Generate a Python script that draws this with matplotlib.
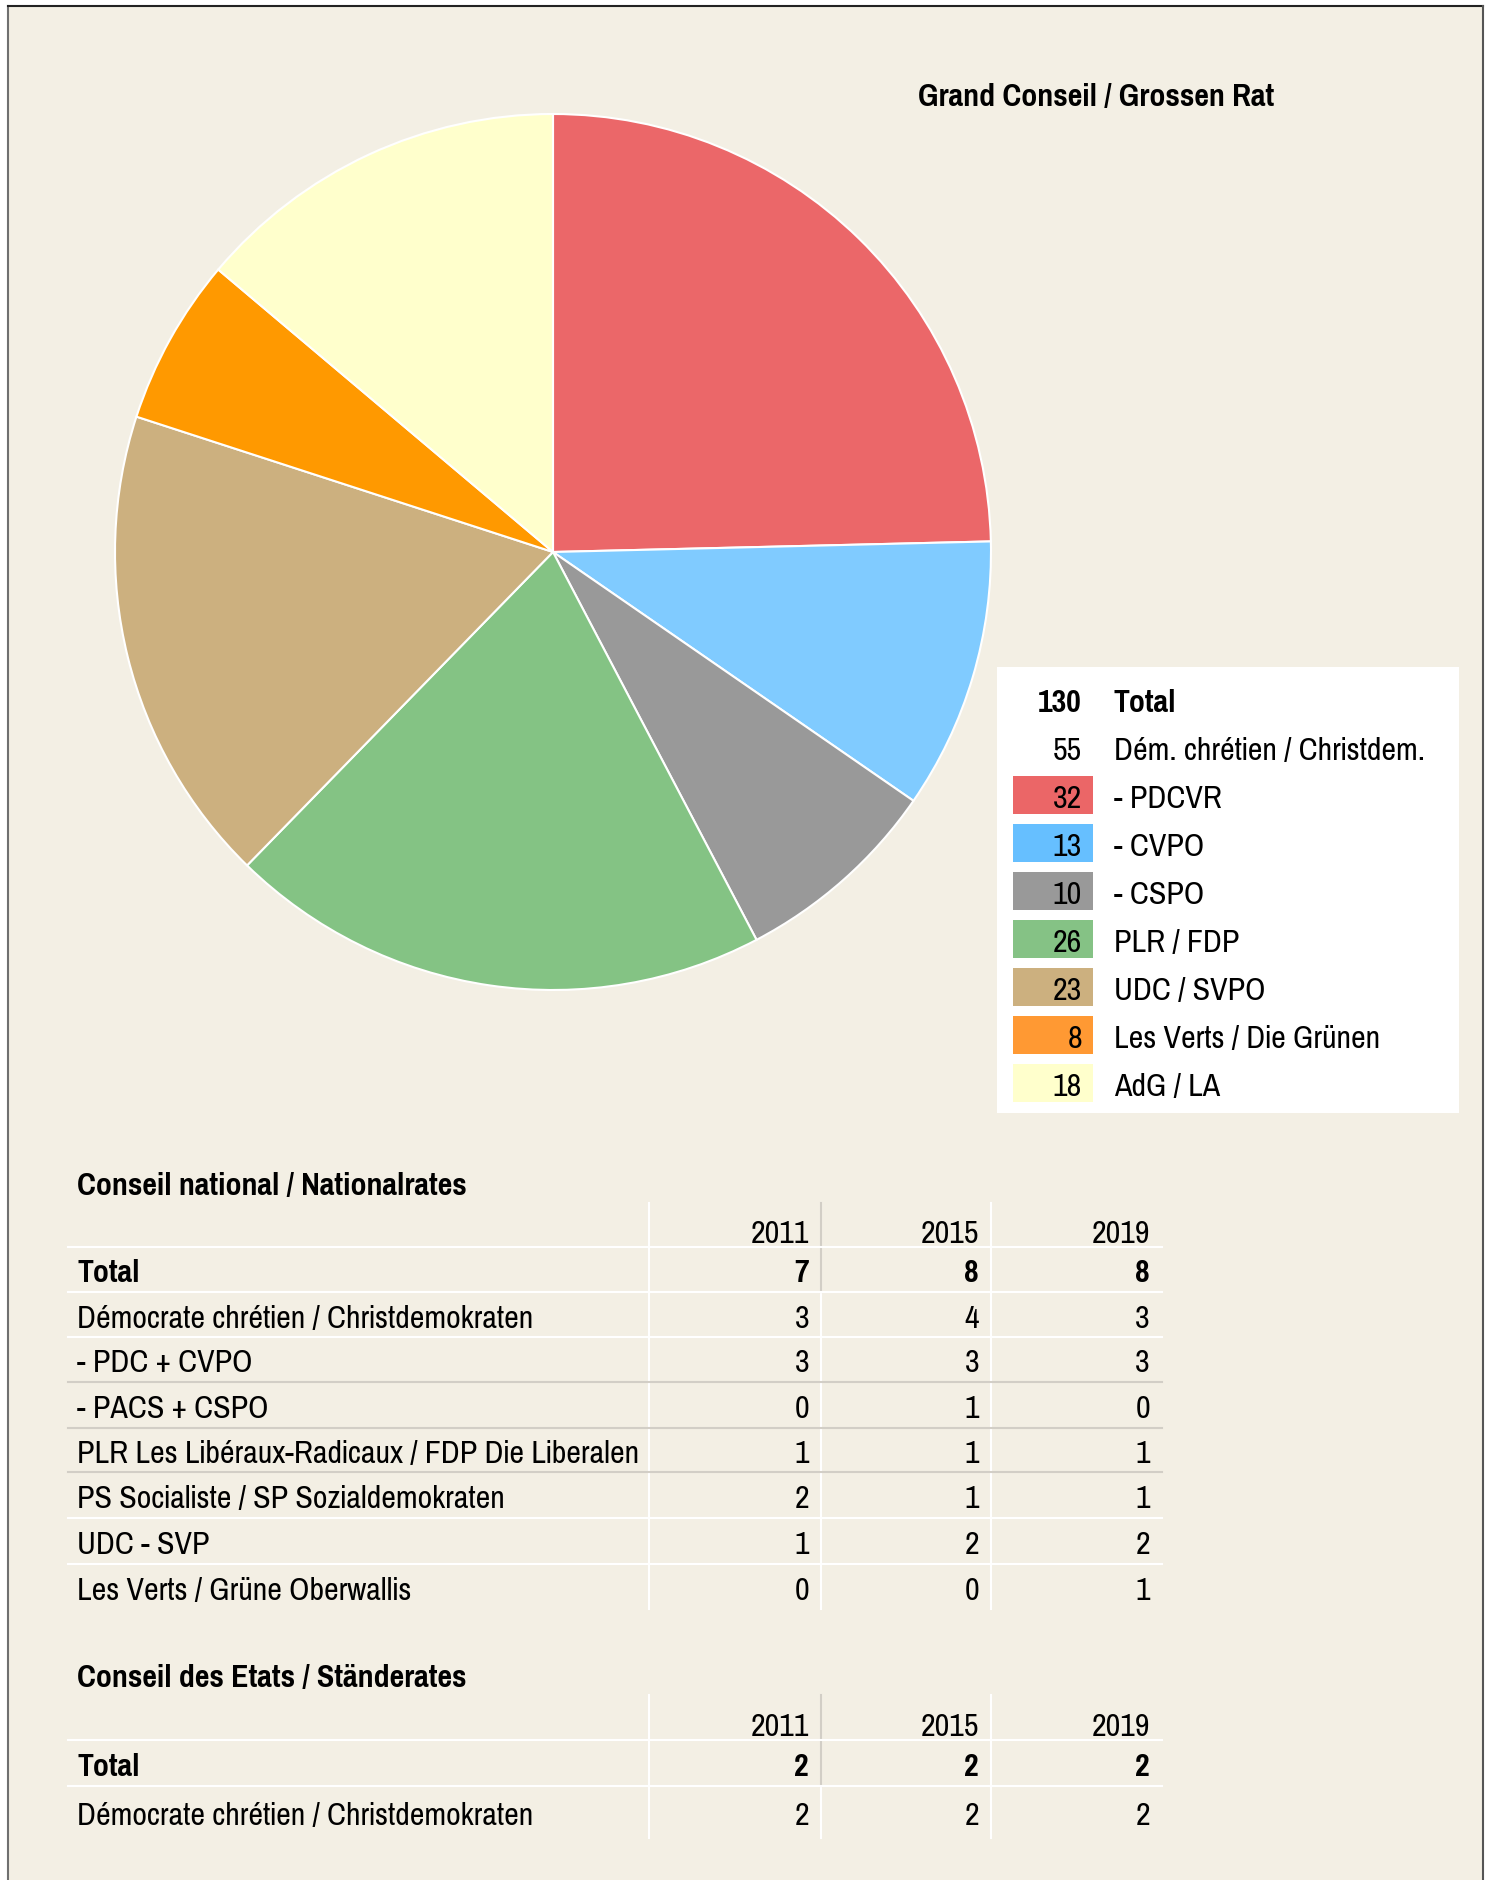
import matplotlib
matplotlib.use('Agg')
import matplotlib.pyplot as plt
from matplotlib.patches import Rectangle

plt.rcParams['font.family'] = ['Pragati Narrow', 'Liberation Sans Narrow', 'Roboto Condensed', 'DejaVu Sans']

W, H = 1490, 1881
BG = '#F3EFE4'

# Grand Conseil seats
parties = ['- PDCVR', '- CVPO', '- CSPO', 'PLR / FDP', 'UDC / SVPO', 'Les Verts / Die Grünen', 'AdG / LA']
seats = [32, 13, 10, 26, 23, 8, 18]
pie_colors = ['#EB6769', '#80CBFF', '#999999', '#84C384', '#CCB07F', '#FF9900', '#FFFFCC']
swatch_colors = ['#EB6667', '#66BFFF', '#999999', '#85C285', '#CCB07F', '#FF9933', '#FFFFCC']
total_label = 'Total'
dc_label = 'Dém. chrétien / Christdem.'
dc_seats = 55

# Conseil national
years = ['2011', '2015', '2019']
cn_rows = ['Total', 'Démocrate chrétien / Christdemokraten', '- PDC + CVPO', '- PACS + CSPO',
           'PLR Les Libéraux-Radicaux / FDP Die Liberalen', 'PS Socialiste / SP Sozialdemokraten',
           'UDC - SVP', 'Les Verts / Grüne Oberwallis']
cn_2011 = [7, 3, 3, 0, 1, 2, 1, 0]
cn_2015 = [8, 4, 3, 1, 1, 1, 2, 0]
cn_2019 = [8, 3, 3, 0, 1, 1, 2, 1]

# Conseil des Etats
ce_rows = ['Total', 'Démocrate chrétien / Christdemokraten']
ce_2011 = [2, 2]
ce_2015 = [2, 2]
ce_2019 = [2, 2]

FS = 25
DY = 3  # small downward nudge for text baselines

fig = plt.figure(figsize=(W / 100, H / 100), dpi=100)
fig.patch.set_facecolor('white')
ax = fig.add_axes([0, 0, 1, 1])
ax.set_xlim(0, W)
ax.set_ylim(H, 0)
ax.axis('off')

# panel + frame (no bottom border)
ax.add_patch(Rectangle((8, 7), 1475, H, facecolor=BG, edgecolor='none', zorder=0))
ax.plot([8, 8], [7, H], color='#707070', lw=1.5, zorder=1)
ax.plot([8, 1483], [7, 7], color='#222222', lw=1.5, zorder=1)
ax.plot([1483, 1483], [7, H], color='#555555', lw=1.5, zorder=1)

# pie
cx, cy, r = 553, 553, 438
pax = fig.add_axes([(cx - r) / W, 1 - (cy + r) / H, 2 * r / W, 2 * r / H])
pax.pie(seats, colors=pie_colors, startangle=90, counterclock=False,
        wedgeprops=dict(edgecolor='white', linewidth=1.5))
pax.set_xlim(-1, 1)
pax.set_ylim(-1, 1)
pax.axis('off')

ax.text(1096, 94 + DY, 'Grand Conseil / Grossen Rat', fontsize=FS, fontweight='bold',
        ha='center', va='center')

# legend box
ax.add_patch(Rectangle((997, 668), 462, 446, facecolor='white', edgecolor='none', zorder=2))
row0, step = 700, 48
ax.text(1082, row0 + DY, str(sum(seats)), fontsize=FS, fontweight='bold', ha='right', va='center', zorder=3)
ax.text(1114, row0 + DY, total_label, fontsize=FS, fontweight='bold', ha='left', va='center', zorder=3)
ax.text(1082, row0 + step + DY, str(dc_seats), fontsize=FS, ha='right', va='center', zorder=3)
ax.text(1114, row0 + step + DY, dc_label, fontsize=FS, ha='left', va='center', zorder=3)
for i, (lab, val, col) in enumerate(zip(parties, seats, swatch_colors)):
    y = row0 + step * (i + 2)
    ax.add_patch(Rectangle((1013, y - 19), 80, 38, facecolor=col, edgecolor='none', zorder=3))
    ax.text(1082, y + DY, str(val), fontsize=FS, ha='right', va='center', zorder=4)
    ax.text(1114, y + DY, lab, fontsize=FS, ha='left', va='center', zorder=4)

# tables
x_left, x_right = 68, 1162
col_seps = [649, 821, 991]
col_right = [809, 979, 1150]
GRID = '#D2CEC6'


def draw_table(title, title_y, top, bounds, rows, cols, hline_colors):
    ax.text(77, title_y + DY, title, fontsize=FS, fontweight='bold', ha='left', va='center')
    for xs in col_seps:
        ax.plot([xs, xs], [top, bounds[-1]], color='white', lw=1.5, zorder=1)
    ax.plot([col_seps[1], col_seps[1]], [top, bounds[1]], color=GRID, lw=1.5, zorder=1)
    # header
    yh = (top + bounds[0]) / 2 + 5 + DY
    for yr, xr in zip(years, col_right):
        ax.text(xr, yh, yr, fontsize=FS, ha='right', va='center')
    for k, lab in enumerate(rows):
        y = (bounds[k] + bounds[k + 1]) / 2 + DY
        w = 'bold' if k == 0 else 'normal'
        ax.text(77, y, lab, fontsize=FS, fontweight=w, ha='left', va='center')
        for vals, xr in zip(cols, col_right):
            ax.text(xr, y, str(vals[k]), fontsize=FS, fontweight=w, ha='right', va='center')
    for yb, c in zip(bounds[:-1], hline_colors):
        ax.plot([x_left, x_right], [yb, yb], color=c, lw=1.5, zorder=1)


cn_bounds = [1248, 1293, 1338, 1383, 1429, 1473, 1519, 1565, 1610]
draw_table('Conseil national / Nationalrates', 1183, 1204, cn_bounds, cn_rows,
           [cn_2011, cn_2015, cn_2019],
           ['white', 'white', 'white', GRID, GRID, GRID, 'white', 'white'])

ce_bounds = [1741, 1787, 1839]
draw_table('Conseil des Etats / Ständerates', 1675, 1696, ce_bounds, ce_rows,
           [ce_2011, ce_2015, ce_2019], ['white', 'white'])

fig.savefig('out.png', dpi=100, facecolor=fig.get_facecolor())
